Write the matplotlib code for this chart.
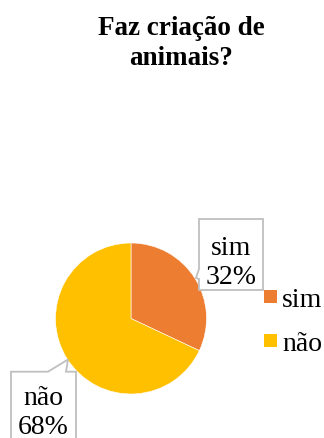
import matplotlib
matplotlib.use("Agg")
import matplotlib.pyplot as plt
from matplotlib.patches import Polygon, Rectangle

# dados
categorias = ["sim", "não"]
percentuais = [32, 68]
cores = ["#ED7D31", "#FFC000"]
titulo = "Faz criação de\nanimais?"

W, H = 324, 439
plt.rcParams["font.family"] = ["Liberation Serif", "DejaVu Serif"]

fig = plt.figure(figsize=(W / 100, H / 100), dpi=100)


def fx(px):
    return px / W


def fy(py):
    return 1 - py / H


# título (va="baseline" alinha a última linha)
fig.text(fx(181.5), fy(65), titulo, ha="center", va="baseline",
         fontsize=19.5, fontweight="bold", linespacing=1.25)

# pizza
cx, cy, r = 131, 319.5, 75.5
ax = fig.add_axes([fx(cx - r), fy(cy + r), 2 * r / W, 2 * r / H])
ax.pie(percentuais, colors=cores, startangle=90, counterclock=False,
       wedgeprops=dict(edgecolor="white", linewidth=0.4))
ax.set_xlim(-1, 1)
ax.set_ylim(-1, 1)
ax.set_aspect("equal")
ax.axis("off")

# rótulos em caixas (callout)
borda = "#BFBFBF"
caixa_sim = [(199, 220), (263, 220), (263, 291), (199, 291), (199, 280),
             (196, 279), (199, 270)]
caixa_nao = [(11, 372.7), (48, 372.7), (68, 360.5), (66, 372.7), (76, 372.7),
             (76, 445), (11, 445)]
for pts in (caixa_sim, caixa_nao):
    fig.patches.append(Polygon([(fx(x), fy(y)) for x, y in pts], closed=True,
                               transform=fig.transFigure, facecolor="white",
                               edgecolor=borda, linewidth=1.3, zorder=3))

fig.text(fx(231.5), fy(284), f"{categorias[0]}\n{percentuais[0]}%", ha="center",
         va="baseline", fontsize=20, linespacing=1.22, zorder=4)
fig.text(fx(43), fy(434.5), f"{categorias[1]}\n{percentuais[1]}%", ha="center",
         va="baseline", fontsize=20, linespacing=1.22, zorder=4)

# legenda
for i, (cat, cor) in enumerate(zip(categorias, cores)):
    ytop = 291 + i * 44
    fig.patches.append(Rectangle((fx(264), fy(ytop + 13)), 13 / W, 13 / H,
                                 transform=fig.transFigure, facecolor=cor,
                                 edgecolor="none"))
    fig.text(fx(282), fy(ytop + 6.5), cat, ha="left", va="center_baseline",
             fontsize=20)

fig.savefig("out.png", dpi=100, facecolor="white")
